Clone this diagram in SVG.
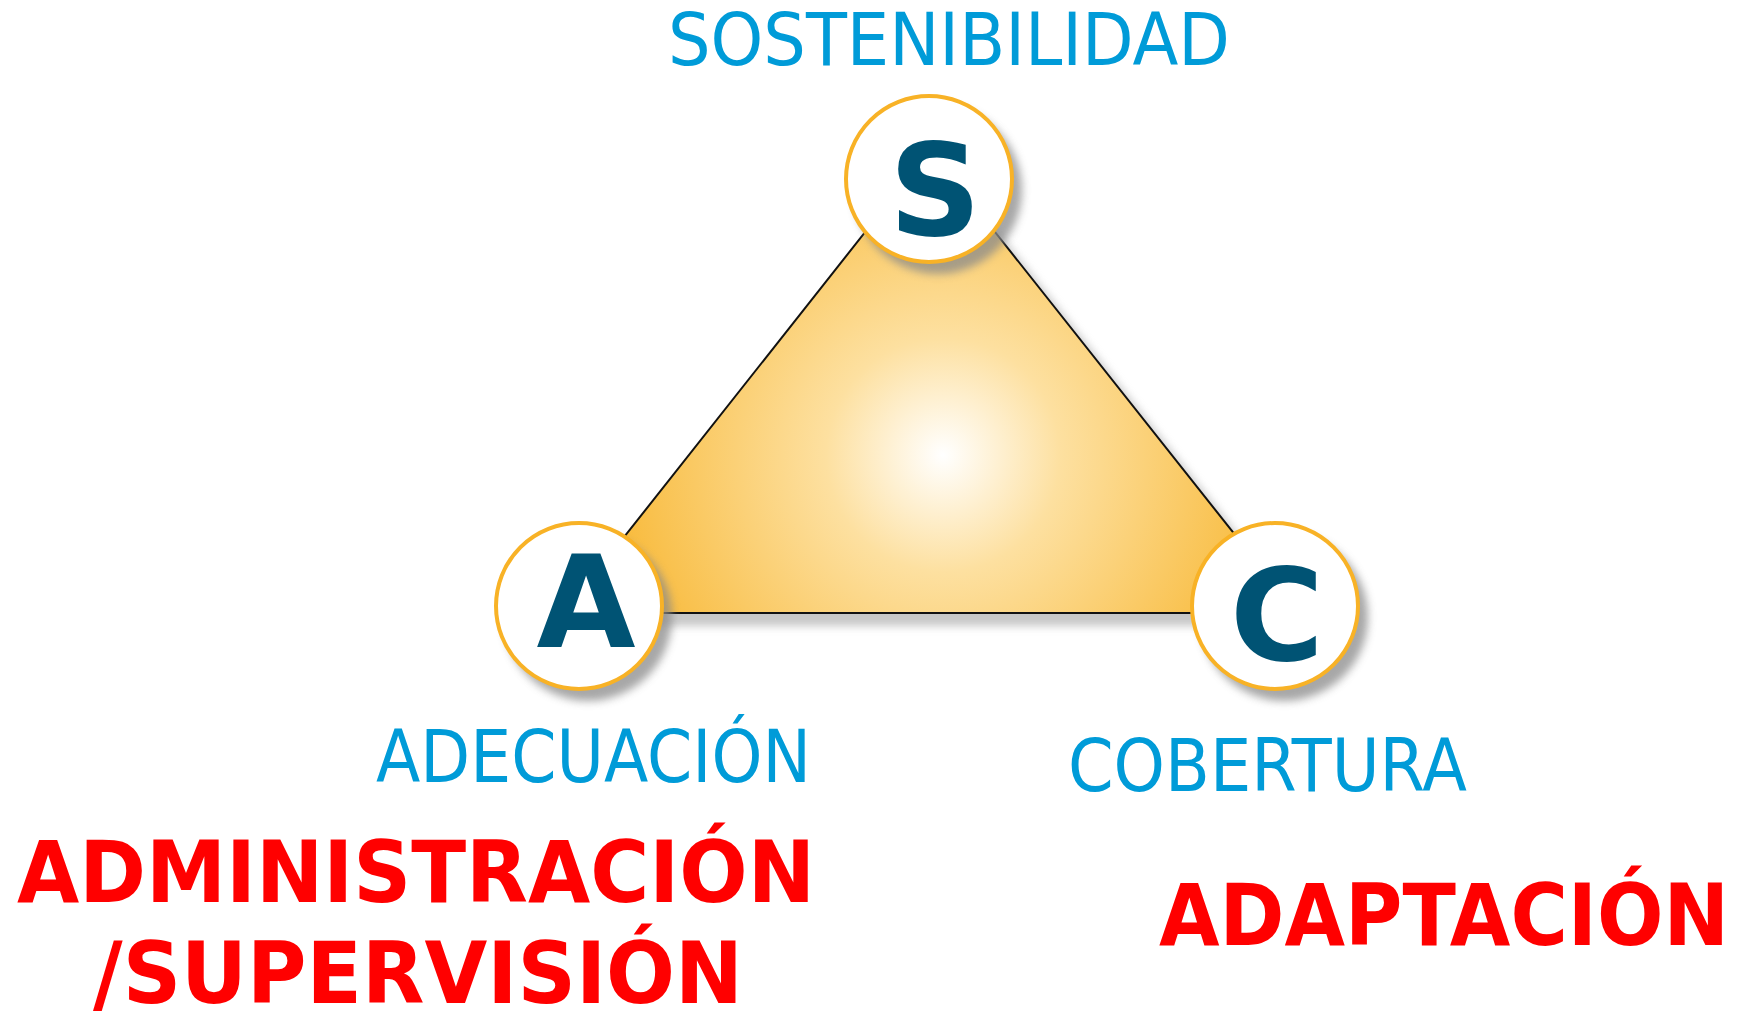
<svg xmlns="http://www.w3.org/2000/svg" width="1739" height="1016" viewBox="0 0 1739 1016">
<style>
.lbl{font-family:"DejaVu Sans","Liberation Sans",sans-serif;fill:#009BD8;font-size:73px}
.red{font-family:"DejaVu Sans","Liberation Sans",sans-serif;fill:#FF0000;font-size:86px;font-weight:bold}
.ltr{font-family:"DejaVu Sans","Liberation Sans",sans-serif;fill:#005374;font-size:128px;font-weight:bold;text-anchor:middle}
.circ{fill:#FFFFFF;stroke:#F8B226;stroke-width:4}
.shd{fill:#8a8a8a;opacity:0.75;filter:url(#blur)}
</style>
<defs>
<radialGradient id="tg" cx="943" cy="455" r="390" gradientUnits="userSpaceOnUse">
<stop offset="0" stop-color="#FFFFFF"/>
<stop offset="0.3" stop-color="#FDE0A0"/>
<stop offset="0.75" stop-color="#F9C250"/>
<stop offset="1" stop-color="#F8B020"/>
</radialGradient>
<filter id="blur" x="-20%" y="-20%" width="140%" height="140%"><feGaussianBlur stdDeviation="4"/></filter>
</defs>
<rect width="1739" height="1016" fill="#FFFFFF"/>
<g id="connectors">
<polygon points="937,160 571,623 1304,623" fill="#9a9a9a" stroke="#9a9a9a" stroke-width="6" opacity="0.55" filter="url(#blur)"/>
<polygon points="930,150 564,613 1297,613" fill="url(#tg)" stroke="#111111" stroke-width="2"/>
</g>
<g id="node-S">
<circle class="shd" cx="938" cy="190" r="84"/>
<circle class="circ" cx="929" cy="179" r="83"/>
<text class="ltr" x="935" y="235">S</text>
</g>
<g id="node-A">
<circle class="shd" cx="588" cy="617" r="84"/>
<circle class="circ" cx="579" cy="606" r="83"/>
<text class="ltr" x="586" y="647">A</text>
</g>
<g id="node-C">
<circle class="shd" cx="1284" cy="617" r="84"/>
<circle class="circ" cx="1275" cy="606" r="83"/>
<text class="ltr" x="1277" y="660">C</text>
</g>
<g id="labels">
<text class="lbl" x="668" y="65" textLength="562" lengthAdjust="spacingAndGlyphs">SOSTENIBILIDAD</text>
<text class="lbl" x="376" y="782" textLength="435" lengthAdjust="spacingAndGlyphs">ADECUACIÓN</text>
<text class="lbl" x="1068" y="791" textLength="399" lengthAdjust="spacingAndGlyphs">COBERTURA</text>
<text class="red" x="17" y="902" textLength="798" lengthAdjust="spacingAndGlyphs">ADMINISTRACIÓN</text>
<text class="red" x="93" y="1003" textLength="650" lengthAdjust="spacingAndGlyphs">/SUPERVISIÓN</text>
<text class="red" x="1159" y="945" textLength="570" lengthAdjust="spacingAndGlyphs">ADAPTACIÓN</text>
</g>
</svg>
